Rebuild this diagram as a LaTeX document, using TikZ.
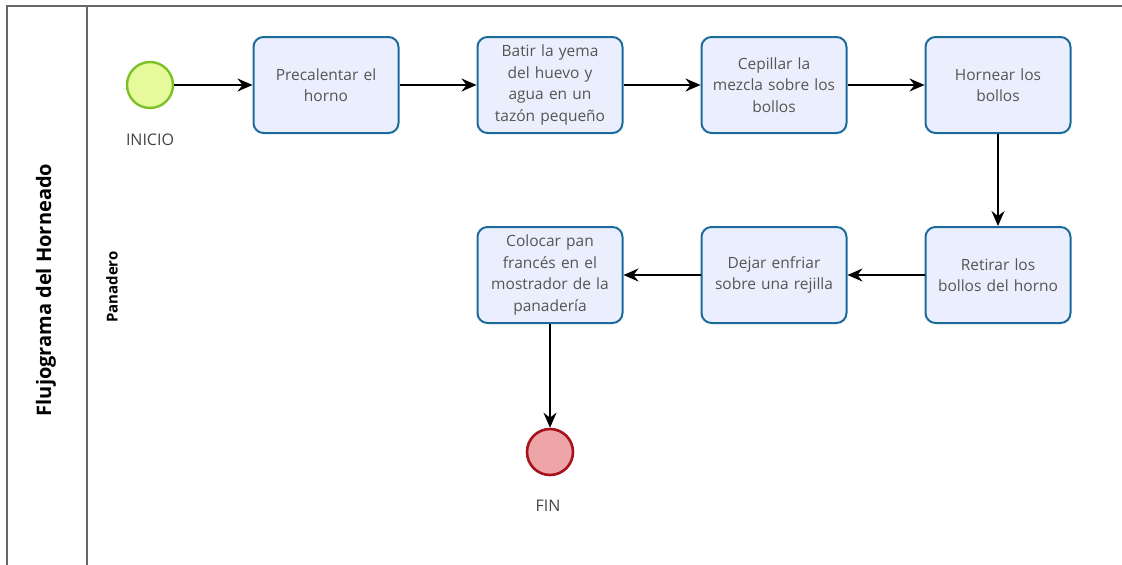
\documentclass[tikz,border=0pt]{standalone}
\usepackage{fontspec}
\setmainfont{Open Sans}
\usetikzlibrary{arrows.meta}
\definecolor{taskfill}{HTML}{EBEEFC}
\definecolor{taskline}{HTML}{1C6A9A}
\definecolor{tasktext}{HTML}{555555}
\definecolor{startfill}{HTML}{E6FA9C}
\definecolor{startline}{HTML}{7CC227}
\definecolor{endfill}{HTML}{EDA5A8}
\definecolor{endline}{HTML}{A5121C}
\definecolor{poolline}{HTML}{666666}
\begin{document}
\begin{tikzpicture}[x=1pt,y=-1pt,
  task/.style={draw=taskline, fill=taskfill, line width=2pt, rounded corners=10pt,
    minimum width=145pt, minimum height=96pt, text width=140pt, align=center,
    text=tasktext, font=\fontsize{15.5}{21.5}\selectfont, inner sep=0pt},
  startev/.style={circle, draw=startline, fill=startfill, line width=2.4pt, minimum size=46pt, inner sep=0pt},
  endev/.style={circle, draw=endline, fill=endfill, line width=2.6pt, minimum size=46pt, inner sep=0pt},
  evlabel/.style={text=tasktext!80!black, font=\fontsize{16}{18}\selectfont},
  flow/.style={-{Stealth[length=15pt,width=13pt,inset=5pt]}, line width=1.3pt, black},
  pool/.style={draw=poolline, line width=1.4pt}]
\useasboundingbox (0,0) rectangle (1122,565);
\fill[white] (0,0) rectangle (1122,565);

% pool frame and header
\draw[pool] (7,570) -- (7,6) -- (1125,6);
\draw[pool] (87,6) -- (87,570);
\node[rotate=90, font=\fontsize{20}{22}\selectfont\bfseries] (pooltitle) at (46,290) {Flujograma del Horneado};
\node[rotate=90, font=\fontsize{15}{17}\selectfont\bfseries] (lanetitle) at (112,287) {Panadero};

% events
\node[startev] (inicio) at (150,85) {};
\node[evlabel] (iniciolbl) at (150,140) {INICIO};
\node[endev] (fin) at (550,452) {};
\node[evlabel] (finlbl) at (548,506) {FIN};

% tasks, first row
\node[task] (t1) at (326,85) {Precalentar el\\horno};
\node[task] (t2) at (550,85) {Batir la yema\\del huevo y\\agua en un\\tazón pequeño};
\node[task] (t3) at (774,85) {Cepillar la\\mezcla sobre los\\bollos};
\node[task] (t4) at (998,85) {Hornear los\\bollos};
% tasks, second row
\node[task] (t5) at (998,275) {Retirar los\\bollos del horno};
\node[task] (t6) at (774,275) {Dejar enfriar\\sobre una rejilla};
\node[task] (t7) at (550,275) {Colocar pan\\francés en el\\mostrador de la\\panadería};

% sequence flows
\draw[flow] (inicio) -- (t1);
\draw[flow] (t1) -- (t2);
\draw[flow] (t2) -- (t3);
\draw[flow] (t3) -- (t4);
\draw[flow] (t4) -- (t5);
\draw[flow] (t5) -- (t6);
\draw[flow] (t6) -- (t7);
\draw[flow] (t7) -- (fin);
\end{tikzpicture}
\end{document}
